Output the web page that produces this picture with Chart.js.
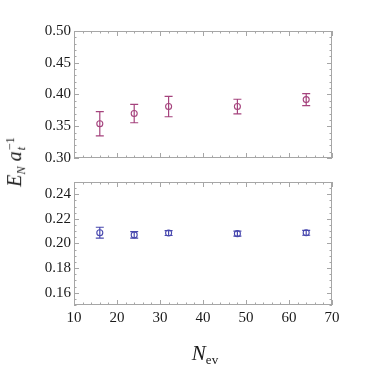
<!DOCTYPE html>
<html lang="en">
<head>
<meta charset="UTF-8" />
<title>E_N vs N_ev</title>
<script src="https://cdn.jsdelivr.net/npm/chart.js"></script>
<style>
    html, body { margin: 0; padding: 0; background: #fff; }
    #wrap { position: relative; width: 374px; height: 365px; overflow: hidden; }
    canvas { position: absolute; left: 0; }
    #topChart { top: 0; }
    #bottomChart { top: 170px; }
    .axis-title { position: absolute; font-family: 'Liberation Serif', 'DejaVu Serif', serif; color: #1a1a1a; white-space: nowrap; }
    #ytitle { left: 16px; top: 162px; font-size: 20px; transform: translate(-50%, -50%) rotate(-90deg); }
    #xtitle { left: 205px; top: 341px; font-size: 21px; transform: translateX(-50%); }
    i { font-style: italic; }
    .sub { font-size: 0.62em; vertical-align: -0.3em; }
    .stack { display: inline-block; vertical-align: -0.35em; line-height: 0.95em; font-size: 0.62em; margin-left: 1px; }
    .stack span { display: block; }
</style>
</head>
<body>
<div id="wrap">
    <canvas id="topChart" width="374" height="170"></canvas>
    <canvas id="bottomChart" width="374" height="195"></canvas>
    <div id="ytitle" class="axis-title"><i>E</i><span class="sub"><i>N</i></span> <i>a</i><span class="stack"><span>&minus;1</span><span><i>t</i></span></span></div>
    <div id="xtitle" class="axis-title"><i>N</i><span class="sub">ev</span></div>
</div>

<script>
    // ----------- данные ------------
    const xValues = [16, 24, 32, 48, 64];
    const topValues = [0.354, 0.370, 0.381, 0.381, 0.392];
    const topErrors = [0.019, 0.0145, 0.016, 0.0115, 0.0095];
    const bottomValues = [0.2088, 0.2070, 0.2085, 0.2080, 0.2087];
    const bottomErrors = [0.0044, 0.0026, 0.0020, 0.0020, 0.0020];

    const xTicks = [10, 20, 30, 40, 50, 60, 70];
    const topTicks = [0.30, 0.35, 0.40, 0.45, 0.50];
    const bottomTicks = [0.16, 0.18, 0.20, 0.22, 0.24];

    const magenta = '#a5437d';
    const blue = '#4848ae';
    const frameColor = '#a6a6a6';
    const textColor = '#1a1a1a';
    const tickFont = { family: '"Liberation Serif", serif', size: 15 };

    Chart.defaults.font.family = '"Liberation Serif", serif';

    // рамка и засечки внутрь, как в Mathematica
    const framePlugin = {
        id: 'frame',
        afterDraw(chart, args, opts) {
            const { ctx, chartArea: a, scales: { x, y } } = chart;
            ctx.save();
            ctx.strokeStyle = frameColor;
            ctx.lineWidth = 1;
            ctx.strokeRect(a.left + 0.5, a.top + 0.5, a.right - a.left - 1, a.bottom - a.top - 1);

            ctx.beginPath();
            // x: major + minor
            for (let v = x.min; v <= x.max + 1e-9; v += opts.xMinor) {
                const px = Math.round(x.getPixelForValue(v)) + 0.5;
                const major = xTicks.some(t => Math.abs(t - v) < 1e-9);
                const len = major ? 5 : 2.5;
                ctx.moveTo(px, a.bottom); ctx.lineTo(px, a.bottom - len);
                ctx.moveTo(px, a.top); ctx.lineTo(px, a.top + len);
            }
            // y: major + minor
            for (let v = y.min; v <= y.max + 1e-9; v += opts.yMinor) {
                const py = Math.round(y.getPixelForValue(v)) + 0.5;
                const major = opts.yTicks.some(t => Math.abs(t - v) < 1e-9);
                const len = major ? 5 : 2.5;
                ctx.moveTo(a.left, py); ctx.lineTo(a.left + len, py);
                ctx.moveTo(a.right, py); ctx.lineTo(a.right - len, py);
            }
            ctx.stroke();
            ctx.restore();
        }
    };

    // планки погрешностей
    const errorBarPlugin = {
        id: 'errorBars',
        beforeDatasetsDraw(chart, args, opts) {
            const { ctx, scales: { x, y } } = chart;
            ctx.save();
            ctx.strokeStyle = opts.color;
            ctx.lineWidth = 1.2;
            ctx.beginPath();
            xValues.forEach((xv, i) => {
                const px = x.getPixelForValue(xv);
                const hi = y.getPixelForValue(opts.values[i] + opts.errors[i]);
                const lo = y.getPixelForValue(opts.values[i] - opts.errors[i]);
                ctx.moveTo(px, hi); ctx.lineTo(px, lo);
                ctx.moveTo(px - 4, hi); ctx.lineTo(px + 4, hi);
                ctx.moveTo(px - 4, lo); ctx.lineTo(px + 4, lo);
            });
            ctx.stroke();
            ctx.restore();
        }
    };

    function makeChart(id, values, errors, color, yMin, yMax, yTicks, yMinor, showX, padding) {
        const ctx = document.getElementById(id).getContext('2d');
        return new Chart(ctx, {
            type: 'scatter',
            data: {
                datasets: [{
                    data: xValues.map((xv, i) => ({ x: xv, y: values[i] })),
                    borderColor: color,
                    backgroundColor: 'rgba(0,0,0,0)',
                    pointRadius: 3,
                    pointBorderWidth: 1.1,
                    pointHoverRadius: 3
                }]
            },
            options: {
                responsive: false,
                animation: false,
                devicePixelRatio: 1,
                layout: { padding: padding },
                plugins: {
                    legend: { display: false },
                    tooltip: { enabled: false },
                    frame: { xMinor: 2, yMinor: yMinor, yTicks: yTicks },
                    errorBars: { values: values, errors: errors, color: color }
                },
                scales: {
                    x: {
                        type: 'linear',
                        min: 10, max: 70,
                        display: showX,
                        afterBuildTicks: s => { s.ticks = xTicks.map(v => ({ value: v })); },
                        afterFit: s => { s.height = showX ? 60 : 0; },
                        grid: { display: false, drawTicks: false },
                        border: { display: false },
                        ticks: { font: tickFont, color: textColor, padding: 4, maxRotation: 0, autoSkip: false }
                    },
                    y: {
                        type: 'linear',
                        min: yMin, max: yMax,
                        afterBuildTicks: s => { s.ticks = yTicks.map(v => ({ value: v })); },
                        afterFit: s => { s.width = 74; },
                        grid: { display: false, drawTicks: false },
                        border: { display: false },
                        ticks: { font: tickFont, color: textColor, padding: 3, autoSkip: false, callback: v => v.toFixed(2) }
                    }
                }
            },
            plugins: [framePlugin, errorBarPlugin]
        });
    }

    makeChart('topChart', topValues, topErrors, magenta, 0.30, 0.50, topTicks, 0.01, false,
        { left: 0, right: 42, top: 31, bottom: 11 });
    makeChart('bottomChart', bottomValues, bottomErrors, blue, 0.15, 0.25, bottomTicks, 0.005, true,
        { left: 0, right: 42, top: 6, bottom: 0 });
</script>
</body>
</html>
